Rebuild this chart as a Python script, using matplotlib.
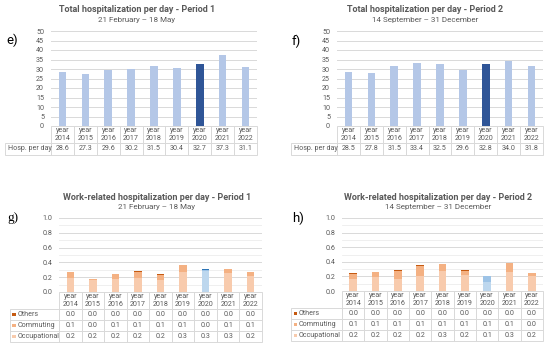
import matplotlib
matplotlib.use("Agg")
import matplotlib.pyplot as plt
import numpy as np
from matplotlib.patches import Rectangle

plt.rcParams["font.family"] = ["Roboto", "DejaVu Sans"]

W, H = 550, 350
GREY = "#595959"
LINE = "#D9D9D9"

years = ["2014", "2015", "2016", "2017", "2018", "2019", "2020", "2021", "2022"]
year_labels = ["year\n" + y for y in years]

# total hospitalization per day
hosp_p1 = [28.6, 27.3, 29.6, 30.2, 31.5, 30.4, 32.7, 37.3, 31.1]
hosp_p2 = [28.5, 27.8, 31.5, 33.4, 32.5, 29.6, 32.8, 34.0, 31.8]

# work-related hospitalization per day
occ_p1 = [0.19, 0.16, 0.17, 0.19, 0.16, 0.27, 0.29, 0.26, 0.21]
comm_p1 = [0.08, 0.02, 0.07, 0.08, 0.065, 0.09, 0.01, 0.055, 0.06]
oth_p1 = [0.0, 0.0, 0.0, 0.012, 0.015, 0.0, 0.005, 0.0, 0.0]

occ_p2 = [0.16, 0.19, 0.16, 0.21, 0.28, 0.22, 0.13, 0.26, 0.21]
comm_p2 = [0.075, 0.07, 0.115, 0.135, 0.09, 0.055, 0.07, 0.12, 0.03]
oth_p2 = [0.005, 0.0, 0.015, 0.015, 0.005, 0.015, 0.0, 0.005, 0.01]

HIGHLIGHT = "2020"
FS = 5.1


def px_axes(fig, x0, y0, x1, y1):
    return fig.add_axes([x0 / W, 1 - y1 / H, (x1 - x0) / W, (y1 - y0) / H])


def draw_table(ax, rows, row_labels, row_colors, label_left, header_h, row_h, fs=FS):
    # everything in axes fraction, derived from pixel sizes
    bb = ax.get_position()
    ax_w = bb.width * W
    ax_h = bb.height * H
    n = len(years)
    hh = header_h / ax_h
    rh = row_h / ax_h
    lw_frac = (bb.x0 * W - label_left) / ax_w
    kw = dict(transform=ax.transAxes, clip_on=False, fill=False, edgecolor=LINE, lw=0.7)
    for i, lab in enumerate(year_labels):
        ax.add_patch(Rectangle((i / n, -hh), 1 / n, hh, **kw))
        ax.text((i + 0.5) / n, -hh / 2, lab, transform=ax.transAxes, ha="center",
                va="center", fontsize=fs, color=GREY, linespacing=1.15)
    for r, (vals, lab, col) in enumerate(zip(rows, row_labels, row_colors)):
        y = -hh - (r + 1) * rh
        ax.add_patch(Rectangle((-lw_frac, y), lw_frac, rh, **kw))
        tx = -lw_frac + 2.5 / ax_w
        if col is not None:
            sq = 3.5
            ax.add_patch(Rectangle((tx, y + rh / 2 - sq / 2 / ax_h), sq / ax_w, sq / ax_h,
                                   transform=ax.transAxes, clip_on=False, color=col, lw=0))
            tx += 5.0 / ax_w
        ax.text(tx, y + rh / 2, lab, transform=ax.transAxes, ha="left", va="center",
                fontsize=fs, color=GREY)
        for i, v in enumerate(vals):
            ax.add_patch(Rectangle((i / n, y), 1 / n, rh, **kw))
            ax.text((i + 0.5) / n, y + rh / 2, f"{v:.1f}", transform=ax.transAxes,
                    ha="center", va="center", fontsize=fs, color=GREY)


def style_axes(ax, ymax, step, minor=None):
    ax.set_xlim(-0.5, len(years) - 0.5)
    ax.set_ylim(0, ymax)
    ax.set_yticks(np.arange(0, ymax + step / 2, step))
    if minor:
        ax.set_yticks(np.arange(0, ymax + minor / 2, minor), minor=True)
        ax.grid(axis="y", which="minor", color="#EDEDED", lw=0.6)
    ax.grid(axis="y", which="major", color=LINE, lw=0.7)
    ax.set_axisbelow(True)
    ax.set_xticks([])
    for s in ax.spines.values():
        s.set_visible(False)
    ax.tick_params(axis="y", length=0, labelsize=FS, labelcolor=GREY, pad=5)
    ax.tick_params(axis="y", which="minor", length=0)


def titles(fig, cx, y_title, title, sub, tag, tag_xy, tag_family=None):
    fig.text(cx / W, 1 - y_title / H, title, ha="center", va="center", fontsize=6.5,
             fontweight="bold", color=GREY)
    fig.text(cx / W, 1 - (y_title + 10) / H, sub, ha="center", va="center", fontsize=5.8,
             color=GREY)
    fig.text(tag_xy[0] / W, 1 - tag_xy[1] / H, tag, ha="left", va="center", fontsize=9.5,
             color="black", family=tag_family or ["Roboto", "DejaVu Sans"])


fig = plt.figure(figsize=(W / 100, H / 100), dpi=100)
x = np.arange(len(years))
bw = 0.33

# e) and f): total hospitalization
total_panels = [
    (hosp_p1, (51, 31, 257, 126), 5, 137, "Total hospitalization per day - Period 1",
     "21 February \u2013 18 May", "e)", (6, 40)),
    (hosp_p2, (337, 31, 543, 126), 291, 425, "Total hospitalization per day - Period 2",
     "14 September \u2013 31 December", "f)", (292, 41)),
]
for vals, box, lab_left, cx, title, sub, tag, tag_xy in total_panels:
    ax = px_axes(fig, *box)
    colors = ["#2F5597" if y == HIGHLIGHT else "#B4C7E7" for y in years]
    ax.bar(x, vals, width=bw, color=colors)
    style_axes(ax, 50, 5)
    draw_table(ax, [vals], ["Hosp. per day"], [None], lab_left, 17, 12)
    titles(fig, cx, 10, title, sub, tag, tag_xy)

# g) and h): work-related hospitalization
work_panels = [
    (occ_p1, comm_p1, oth_p1, (59, 218, 262, 292), 10, 157,
     "Work-related hospitalization per day - Period 1", "21 February \u2013 18 May", "g)",
     (7, 218), "Liberation Serif"),
    (occ_p2, comm_p2, oth_p2, (342, 218, 543, 291), 291, 438,
     "Work-related hospitalization per day - Period 2", "14 September \u2013 31 December", "h)",
     (292, 218), None),
]
orange = {"occ": "#F8CBAD", "comm": "#F4B183", "oth": "#C55A11"}
blue = {"occ": "#BDD7EE", "comm": "#9DC3E6", "oth": "#2E75B6"}
for occ, comm, oth, box, lab_left, cx, title, sub, tag, tag_xy, fam in work_panels:
    ax = px_axes(fig, *box)
    pal = [blue if y == HIGHLIGHT else orange for y in years]
    occ_a, comm_a, oth_a = np.array(occ), np.array(comm), np.array(oth)
    ax.bar(x, occ_a, width=bw, color=[p["occ"] for p in pal])
    ax.bar(x, comm_a, width=bw, bottom=occ_a, color=[p["comm"] for p in pal])
    ax.bar(x, oth_a, width=bw, bottom=occ_a + comm_a, color=[p["oth"] for p in pal])
    style_axes(ax, 1.0, 0.2, minor=0.1)
    ax.yaxis.set_major_formatter(plt.FuncFormatter(lambda v, p: f"{v:.1f}"))
    draw_table(ax, [oth, comm, occ], ["Others", "Commuting", "Occupational"],
               [orange["oth"], orange["comm"], orange["occ"]], lab_left, 17, 11)
    titles(fig, cx, box[1] - 21, title, sub, tag, tag_xy, fam)

fig.savefig("out.png", dpi=100)
